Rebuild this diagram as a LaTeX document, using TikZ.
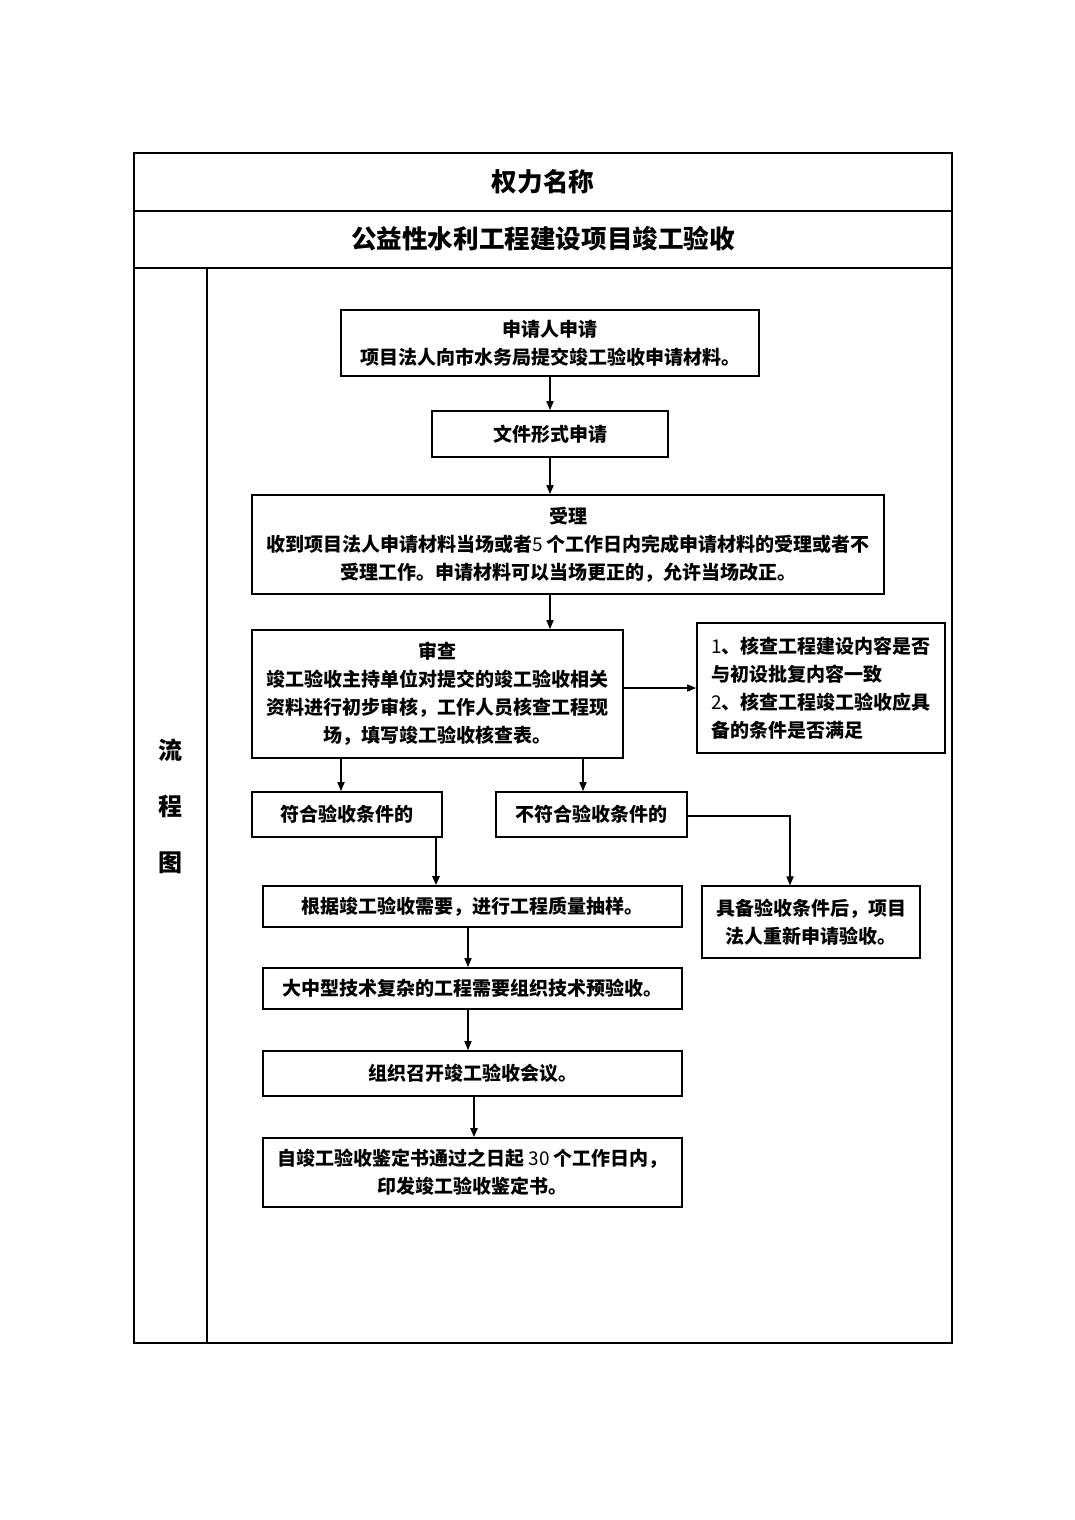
\documentclass[tikz,border=0pt]{standalone}
\usepackage{fontspec}
\newfontfamily\cjk{Noto Sans CJK SC}
\usetikzlibrary{arrows.meta}

\begin{document}
\begin{tikzpicture}[
    x={(0.5pt,0pt)},
    y={(0pt,-0.5pt)},
    line join=miter,
    frame/.style={line width=0.55pt},
    box/.style={
        draw,
        line width=0.9pt,
        align=center,
        inner sep=0pt,
        font=\cjk\bfseries\fontsize{9.5}{14}\selectfont
    },
    head/.style={font=\cjk\bfseries\fontsize{12.8}{16}\selectfont},
    arrow/.style={
        line width=0.55pt,
        -{Triangle[length=4.5pt,width=3.6pt]}
    }
]

% =========================================================
% 页面大小
% =========================================================

\useasboundingbox (0,0) rectangle (1075,1520);

% =========================================================
% 表格框线
% =========================================================

\draw[frame] (134,153) rectangle (952,1343);
\draw[frame] (134,211)--(952,211);
\draw[frame] (134,268)--(952,268);
\draw[frame] (207,268)--(207,1343);

% =========================================================
% 表头
% =========================================================

\node[head] (power) at (543,182) {权力名称};
\node[head] (title) at (543,239) {公益性水利工程建设项目竣工验收};

\node[font=\cjk\bfseries\fontsize{12}{28}\selectfont, align=center]
    (side) at (170,806) {流\\程\\图};

% =========================================================
% 流程框
% =========================================================

\node[box, minimum width=209pt, minimum height=33pt] (apply) at (550,343)
    {申请人申请\\项目法人向市水务局提交竣工验收申请材料。};

\node[box, minimum width=118pt, minimum height=23pt] (form) at (550,434)
    {文件形式申请};

\node[box, minimum width=316pt, minimum height=49.5pt] (accept) at (568,544.5)
    {受理\\收到项目法人申请材料当场或者{\mdseries 5} 个工作日内完成申请材料的受理或者不\\
     受理工作。申请材料可以当场更正的，允许当场改正。};

\node[box, minimum width=185.5pt, minimum height=64pt] (review) at (437.5,694)
    {审查\\竣工验收主持单位对提交的竣工验收相关\\
     资料进行初步审核，工作人员核查工程现\\场，填写竣工验收核查表。};

\node[box, align=left, minimum width=124pt, minimum height=65pt] (check) at (821,688)
    {{\mdseries 1}、核查工程建设内容是否\\与初设批复内容一致\\
     {\mdseries 2}、核查工程竣工验收应具\\备的条件是否满足};

\node[box, minimum width=95pt, minimum height=22.5pt] (yes) at (347,814.5)
    {符合验收条件的};

\node[box, minimum width=95.5pt, minimum height=22.5pt] (no) at (591.5,814.5)
    {不符合验收条件的};

\node[box, line width=0.6pt, minimum width=109pt, minimum height=36pt] (again) at (811,922)
    {具备验收条件后，项目\\法人重新申请验收。};

\node[box, minimum width=209.5pt, minimum height=20.5pt] (sample) at (472.5,906.5)
    {根据竣工验收需要，进行工程质量抽样。};

\node[box, minimum width=209.5pt, minimum height=20.5pt] (prelim) at (472.5,988.5)
    {大中型技术复杂的工程需要组织技术预验收。};

\node[box, minimum width=209.5pt, minimum height=22.5pt] (meeting) at (472.5,1073.5)
    {组织召开竣工验收会议。};

\node[box, minimum width=209.5pt, minimum height=34.5pt] (issue) at (472.5,1172.5)
    {自竣工验收鉴定书通过之日起 {\mdseries 30} 个工作日内，\\印发竣工验收鉴定书。};

% =========================================================
% 连线
% =========================================================

\draw[arrow] (apply)--(form);
\draw[arrow] (form.south)--(form.south |- accept.north);
\draw[arrow] (form.south |- accept.south)--(form.south |- review.north);
\draw[arrow] (review.east |- check.west)--(check.west);

\draw[arrow] ([xshift=-3pt]yes.north |- review.south)--([xshift=-3pt]yes.north);
\draw[arrow] ([xshift=-4.25pt]no.north |- review.south)--([xshift=-4.25pt]no.north);

\draw[arrow] ([yshift=-0.75pt]no.east)-|([xshift=-10.5pt]again.north);

\draw[arrow, line width=1pt]
    ([xshift=-18.25pt]sample.north |- yes.south)--([xshift=-18.25pt]sample.north);

\draw[arrow] ([xshift=-2.25pt]sample.south)--([xshift=-2.25pt]prelim.north);
\draw[arrow] ([xshift=-2.25pt]prelim.south)--([xshift=-2.25pt]meeting.north);
\draw[arrow, line width=0.9pt] ([xshift=0.75pt]meeting.south)--([xshift=0.75pt]issue.north);

\end{tikzpicture}
\end{document}
